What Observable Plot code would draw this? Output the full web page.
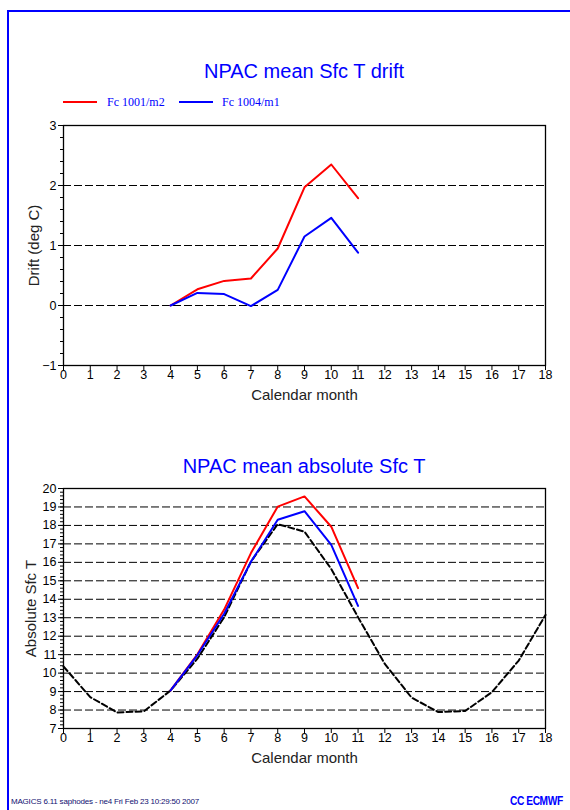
<!DOCTYPE html>
<html><head><meta charset="utf-8">
<script src="https://cdn.jsdelivr.net/npm/d3@7"></script>
<script src="https://cdn.jsdelivr.net/npm/@observablehq/plot@0.6"></script>
<style>
body{margin:0;background:#fff;}
#page{position:relative;width:570px;height:810px;overflow:hidden;background:#fff;font-family:"Liberation Sans",Arial,sans-serif;}
.chart{position:absolute;left:0;}
.title{position:absolute;left:63px;width:482px;text-align:center;color:#0000ff;font-size:20px;line-height:20px;white-space:nowrap;}
.legline{position:absolute;height:2px;}
.legtext{position:absolute;font-family:"Liberation Serif","Times New Roman",serif;font-size:12px;line-height:12px;color:#0000ff;white-space:nowrap;}
#footer{position:absolute;left:11px;top:797px;font-size:8px;line-height:9px;color:#101070;white-space:nowrap;letter-spacing:-0.2px;}
#logo{position:absolute;left:510px;top:795px;font-size:12px;line-height:12px;font-weight:bold;color:#0000ff;white-space:nowrap;transform:scaleX(0.85);transform-origin:left top;letter-spacing:-0.5px;}
</style></head>
<body><div id="page">
<div style="position:absolute;left:7px;top:10px;width:563px;height:1.5px;background:#0000ff"></div>
<div style="position:absolute;left:7px;top:10px;width:1.5px;height:800px;background:#0000ff"></div>
<div class="title" id="t1" style="top:61px"></div>
<div id="legend"></div>
<div class="chart" id="c1" style="top:110px"></div>
<div class="title" id="t2" style="top:456px"></div>
<div class="chart" id="c2" style="top:478px"></div>
<div id="footer"></div>
<div id="logo">CC ECMWF</div>
</div>
<script>
// ---- data ----
const titles = ["NPAC mean Sfc T drift", "NPAC mean absolute Sfc T"];
const seriesNames = ["Fc 1001/m2", "Fc 1004/m1"];
const seriesColors = ["#ff0000", "#0000ff"];
const xLabel = "Calendar month";
const yLabels = ["Drift (deg C)", "Absolute Sfc T"];
const footerText = "MAGICS 6.11 saphodes - ne4 Fri Feb 23 10:29:50 2007";

const monthTicks = [0,1,2,3,4,5,6,7,8,9,10,11,12,13,14,15,16,17,18];
const driftTicks = [-1,0,1,2,3];
const driftGrid = [0,1,2];
const absTicks = [7,8,9,10,11,12,13,14,15,16,17,18,19,20];
const absGrid = [8,9,10,11,12,13,14,15,16,17,18,19];

const fcMonths = [4,5,6,7,8,9,10,11];
const drift1001 = [0, 0.27, 0.41, 0.45, 0.95, 1.97, 2.35, 1.79];
const drift1004 = [0, 0.21, 0.19, -0.01, 0.26, 1.15, 1.46, 0.88];
const abs1001 = [9.06, 11.02, 13.44, 16.5, 19.02, 19.57, 17.93, 14.6];
const abs1004 = [9.06, 10.98, 13.22, 16.03, 18.31, 18.77, 16.95, 13.64];
const climMonths = [0,1,2,3,4,5,6,7,8,9,10,11,12,13,14,15,16,17,18];
const climate = [10.36, 8.7, 7.87, 7.93, 9.06, 10.78, 13.03, 16.04, 18.07, 17.66, 15.64, 13.03, 10.5, 8.67, 7.89, 7.95, 8.97, 10.68, 13.15];

// ---- text ----
document.getElementById("t1").textContent = titles[0];
document.getElementById("t2").textContent = titles[1];
document.getElementById("footer").textContent = footerText;
const leg = document.getElementById("legend");
const legX = [[63, 107], [179, 222]];
seriesNames.forEach((n, i) => {
  const l = document.createElement("div");
  l.className = "legline";
  l.style.left = legX[i][0] + "px"; l.style.top = "101px"; l.style.width = "34px"; l.style.background = seriesColors[i];
  leg.appendChild(l);
  const t = document.createElement("div");
  t.className = "legtext";
  t.style.left = legX[i][1] + "px"; t.style.top = "96px";
  t.textContent = n;
  leg.appendChild(t);
});

const rows = (xs, ys) => xs.map((x, i) => ({x, y: ys[i]}));
const style = {fontFamily: "'Liberation Sans', Arial, sans-serif", fontSize: "12.5px", color: "black", background: "transparent", overflow: "visible"};

function axes(yTicks, yMinor, yLabel, yLabelOffset) {
  return [
    Plot.axisX({ticks: monthTicks, tickSize: 5, tickPadding: 0, label: null, fontSize: 12.5, tickFormat: d => String(d)}),
    Plot.axisX({ticks: [], label: xLabel, labelAnchor: "center", labelArrow: "none", labelOffset: 34, fontSize: 15, fill: "#222"}),
    Plot.axisY({ticks: yTicks, tickSize: 5, tickPadding: 2, label: null, fontSize: 12.5, tickFormat: d => d < 0 ? "\u2212" + Math.abs(d) : String(d)}),
    Plot.axisY({ticks: yMinor, tickSize: 3, label: null, tickFormat: () => ""}),
    Plot.axisY({ticks: [], label: yLabel, labelAnchor: "center", labelArrow: "none", labelOffset: yLabelOffset, fontSize: 15, fill: "#222"})
  ];
}

const c1 = Plot.plot({
  width: 570, height: 295, marginLeft: 63, marginRight: 25, marginTop: 15, marginBottom: 40,
  style,
  x: {domain: [0, 18]},
  y: {domain: [-1, 3]},
  marks: [
    Plot.ruleY(driftGrid, {stroke: "black", strokeWidth: 1, strokeDasharray: "8,3"}),
    Plot.line(rows(fcMonths, drift1001), {x: "x", y: "y", stroke: seriesColors[0], strokeWidth: 2}),
    Plot.line(rows(fcMonths, drift1004), {x: "x", y: "y", stroke: seriesColors[1], strokeWidth: 2}),
    ...axes(driftTicks, d3.range(-1, 3.001, 0.2), yLabels[0], 35),
    Plot.frame({stroke: "black", strokeWidth: 1.3})
  ]
});
document.getElementById("c1").appendChild(c1);

const c2 = Plot.plot({
  width: 570, height: 290, marginLeft: 63, marginRight: 25, marginTop: 10, marginBottom: 40,
  style,
  x: {domain: [0, 18]},
  y: {domain: [7, 20]},
  marks: [
    Plot.ruleY(absGrid, {stroke: "black", strokeWidth: 1, strokeDasharray: "8,3"}),
    Plot.line(rows(climMonths, climate), {x: "x", y: "y", stroke: "black", strokeWidth: 2, strokeDasharray: "6,3"}),
    Plot.line(rows(fcMonths, abs1001), {x: "x", y: "y", stroke: seriesColors[0], strokeWidth: 2}),
    Plot.line(rows(fcMonths, abs1004), {x: "x", y: "y", stroke: seriesColors[1], strokeWidth: 2}),
    ...axes(absTicks, d3.range(7, 20.001, 0.2), yLabels[1], 38),
    Plot.frame({stroke: "black", strokeWidth: 1.3})
  ]
});
document.getElementById("c2").appendChild(c2);
</script>
</body></html>
